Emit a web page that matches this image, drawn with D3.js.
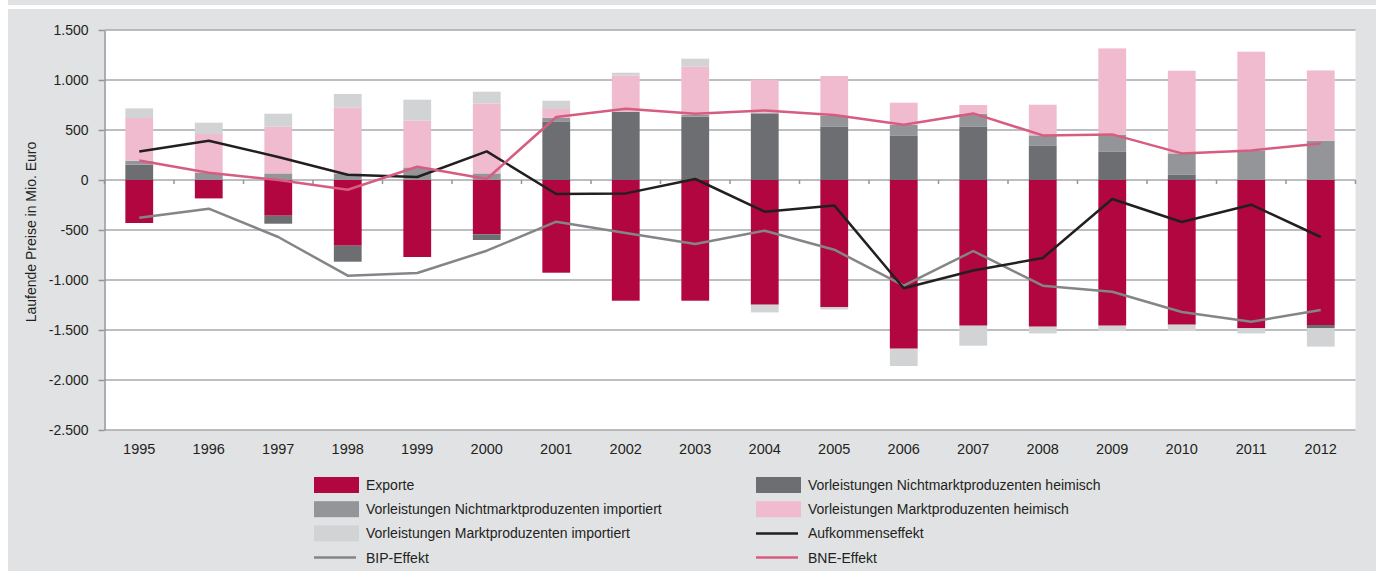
<!DOCTYPE html>
<html>
<head>
<meta charset="utf-8">
<script src="https://cdn.jsdelivr.net/npm/d3@7"></script>
<style>
	body{margin:0;background:#fff;}
	svg{display:block;font-family:'Liberation Sans',Arial,sans-serif;}
</style>
</head>
<body>
<svg id="chart"></svg>
<script>

const years = ['1995','1996','1997','1998','1999','2000','2001','2002','2003','2004','2005','2006','2007','2008','2009','2010','2011','2012']

// stacked bar components, Mio. Euro
const exporte = [-430,-184,-357,-657,-770,-543,-927,-1207,-1207,-1247,-1270,-1687,-1457,-1467,-1457,-1447,-1480,-1450]
const nmHeimisch = [153,0,-80,-160,0,-57,586,683,633,663,536,446,536,346,286,56,0,-33]
const nmImportiert = [40,70,66,66,126,66,37,0,20,10,110,107,127,100,167,210,296,393]
const mHeimisch = [427,390,467,660,467,700,87,363,480,330,394,220,87,307,863,827,987,703]
const mImportiert = [96,113,130,134,210,117,83,27,80,-77,-24,-173,-200,-67,-53,-63,-54,-183]

// effect lines
const aufkommen = [286,393,230,53,30,286,-140,-134,10,-317,-254,-1082,-905,-780,-190,-420,-247,-570]
const bne = [196,73,0,-97,133,10,630,713,663,696,650,553,666,446,456,266,296,366]
const bip = [-377,-287,-570,-957,-930,-707,-417,-530,-640,-507,-697,-1057,-710,-1057,-1117,-1320,-1417,-1300]

const yTicks = [-2500,-2000,-1500,-1000,-500,0,500,1000,1500]

const barSeries = [
	{key:'exporte', name:'Exporte', values:exporte, color:'#b1063f'},
	{key:'nmHeimisch', name:'Vorleistungen Nichtmarktproduzenten heimisch', values:nmHeimisch, color:'#6d6e71'},
	{key:'nmImportiert', name:'Vorleistungen Nichtmarktproduzenten importiert', values:nmImportiert, color:'#939598'},
	{key:'mHeimisch', name:'Vorleistungen Marktproduzenten heimisch', values:mHeimisch, color:'#f0bbcf'},
	{key:'mImportiert', name:'Vorleistungen Marktproduzenten importiert', values:mImportiert, color:'#d1d3d4'},
]

const lineSeries = [
	{name:'Aufkommenseffekt', values:aufkommen, color:'#231f20'},
	{name:'BIP-Effekt', values:bip, color:'#848588'},
	{name:'BNE-Effekt', values:bne, color:'#d65d80'},
]

let outer_width = 1376
let outer_height = 571

let plot = {left:104.5, right:1355.5, top:30, bottom:430}

const de = d3.formatLocale({decimal:',', thousands:'.', grouping:[3], currency:['','€'], minus:'-'})
const fmt = de.format(',d')

const svg = d3.select('#chart')
	.attr('width',outer_width)
	.attr('height',outer_height)

// background panels
svg.append('rect').attr('x',8).attr('y',0).attr('width',outer_width - 8).attr('height',5).attr('fill','#e1e2e4')
svg.append('rect').attr('x',8).attr('y',9).attr('width',outer_width - 8).attr('height',outer_height - 9).attr('fill','#e1e2e4')
svg.append('rect')
	.attr('x',plot.left).attr('y',plot.top)
	.attr('width',plot.right - plot.left).attr('height',plot.bottom - plot.top)
	.attr('fill','#fff')

const xScale = d3.scaleBand()
	.domain(years)
	.range([plot.left,plot.right])
	.paddingInner(0.6)
	.paddingOuter(0.3)

const yScale = d3.scaleLinear()
	.domain([-2500,1500])
	.range([plot.bottom,plot.top])

// gridlines
svg.append('g')
	.selectAll('line')
	.data(yTicks)
	.enter()
	.append('line')
	.attr('x1',plot.left).attr('x2',plot.right)
	.attr('y1',d => yScale(d)).attr('y2',d => yScale(d))
	.attr('stroke','#a7a9ac')
	.attr('stroke-width',1.5)

// bars
const table = years.map((y,i)=>{
	let row = {year:y}
	barSeries.forEach(s => row[s.key] = s.values[i])
	return row
})

const stacked = d3.stack()
	.keys(barSeries.map(s => s.key))
	.offset(d3.stackOffsetDiverging)(table)

svg.append('g')
	.selectAll('g')
	.data(stacked)
	.enter()
	.append('g')
	.attr('fill',(d,i) => barSeries[i].color)
	.selectAll('rect')
	.data(d => d)
	.enter()
	.append('rect')
	.attr('x',d => xScale(d.data.year))
	.attr('width',xScale.bandwidth())
	.attr('y',d => yScale(Math.max(d[0],d[1])))
	.attr('height',d => Math.abs(yScale(d[0]) - yScale(d[1])))

// y axis
const axisY = svg.append('g')
	.attr('transform',`translate(${plot.left},0)`)
	.call(d3.axisLeft(yScale).tickValues(yTicks).tickFormat(fmt).tickSize(6).tickSizeOuter(0))
axisY.select('.domain').attr('stroke','#939598').attr('stroke-width',1.5)
axisY.selectAll('.tick line').attr('stroke','#939598').attr('stroke-width',1.5)
axisY.selectAll('.tick text')
	.attr('font-family',"'Liberation Sans',Arial,sans-serif")
	.attr('font-size',14)
	.attr('fill','#231f20')
	.attr('x',-16)

// x ticks on zero line, at band boundaries
const step = xScale.step()
const bounds = d3.range(years.length + 1).map(i => xScale(years[0]) - xScale.paddingOuter() * step + i * step)
svg.append('g')
	.selectAll('line')
	.data(bounds)
	.enter()
	.append('line')
	.attr('x1',d => d).attr('x2',d => d)
	.attr('y1',yScale(0)).attr('y2',yScale(0) + 4)
	.attr('stroke','#939598')
	.attr('stroke-width',1.5)

svg.append('g')
	.selectAll('text')
	.data(years)
	.enter()
	.append('text')
	.text(d => d)
	.attr('x',d => xScale(d) + xScale.bandwidth() / 2)
	.attr('y',454)
	.attr('text-anchor','middle')
	.attr('font-size',14.5)
	.attr('fill','#231f20')

// lines
const line = d3.line()
	.x((d,i) => xScale(years[i]) + xScale.bandwidth() / 2)
	.y(d => yScale(d))

svg.append('g')
	.selectAll('path')
	.data([lineSeries[1],lineSeries[0],lineSeries[2]])
	.enter()
	.append('path')
	.attr('d',d => line(d.values))
	.attr('fill','none')
	.attr('stroke',d => d.color)
	.attr('stroke-width',2.5)
	.attr('stroke-linejoin','round')

// axis title
svg.append('text')
	.text('Laufende Preise in Mio. Euro')
	.attr('transform',`translate(36,${(plot.top + plot.bottom) / 2 + 2}) rotate(-90)`)
	.attr('text-anchor','middle')
	.attr('font-size',14)
	.attr('fill','#231f20')

// legend
const legendItems = [
	{s:barSeries[0], type:'rect', col:0, row:0},
	{s:barSeries[1], type:'rect', col:1, row:0},
	{s:barSeries[2], type:'rect', col:0, row:1},
	{s:barSeries[3], type:'rect', col:1, row:1},
	{s:barSeries[4], type:'rect', col:0, row:2},
	{s:lineSeries[0], type:'line', col:1, row:2},
	{s:lineSeries[1], type:'line', col:0, row:3},
	{s:lineSeries[2], type:'line', col:1, row:3},
]

const legend = svg.append('g')
const cols = [314,756]
const rowY = (r) => 485 + r * 24.2

const li = legend.selectAll('g')
	.data(legendItems)
	.enter()
	.append('g')
	.attr('transform',d => `translate(${cols[d.col]},${rowY(d.row)})`)

li.filter(d => d.type == 'rect')
	.append('rect')
	.attr('x',0).attr('y',-8)
	.attr('width',45).attr('height',16)
	.attr('fill',d => d.s.color)

li.filter(d => d.type == 'line')
	.append('line')
	.attr('x1',0).attr('x2',42)
	.attr('y1',0).attr('y2',0)
	.attr('stroke',d => d.s.color)
	.attr('stroke-width',2.5)

li.append('text')
	.text(d => d.s.name)
	.attr('x',52)
	.attr('dy','0.35em')
	.attr('font-size',14)
	.attr('fill','#231f20')

</script>
</body>
</html>
